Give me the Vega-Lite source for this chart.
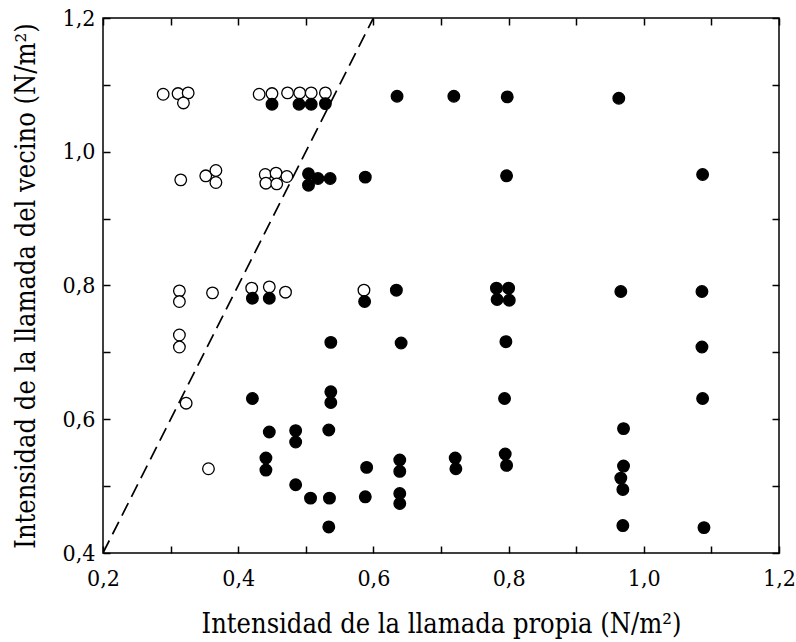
{
  "$schema": "https://vega.github.io/schema/vega-lite/v6.json",
  "autosize": "none",
  "width": 676,
  "height": 535,
  "padding": {"left": 103, "top": 18, "right": 17, "bottom": 89},
  "background": "white",
  "config": {
    "view": {"stroke": "black", "strokeWidth": 1.5},
    "font": "DejaVu Serif Condensed"
  },
  "resolve": {"axis": {"x": "independent", "y": "independent"}},
  "datasets": {
    "pts": [
      {"x": 0.289, "y": 1.086, "tipo": "abierto"},
      {"x": 0.311, "y": 1.087, "tipo": "abierto"},
      {"x": 0.326, "y": 1.088, "tipo": "abierto"},
      {"x": 0.319, "y": 1.073, "tipo": "abierto"},
      {"x": 0.431, "y": 1.086, "tipo": "abierto"},
      {"x": 0.450, "y": 1.087, "tipo": "abierto"},
      {"x": 0.473, "y": 1.088, "tipo": "abierto"},
      {"x": 0.491, "y": 1.088, "tipo": "abierto"},
      {"x": 0.508, "y": 1.088, "tipo": "abierto"},
      {"x": 0.529, "y": 1.088, "tipo": "abierto"},
      {"x": 0.315, "y": 0.958, "tipo": "abierto"},
      {"x": 0.352, "y": 0.964, "tipo": "abierto"},
      {"x": 0.367, "y": 0.972, "tipo": "abierto"},
      {"x": 0.367, "y": 0.954, "tipo": "abierto"},
      {"x": 0.440, "y": 0.966, "tipo": "abierto"},
      {"x": 0.456, "y": 0.968, "tipo": "abierto"},
      {"x": 0.472, "y": 0.963, "tipo": "abierto"},
      {"x": 0.441, "y": 0.953, "tipo": "abierto"},
      {"x": 0.457, "y": 0.952, "tipo": "abierto"},
      {"x": 0.313, "y": 0.792, "tipo": "abierto"},
      {"x": 0.313, "y": 0.776, "tipo": "abierto"},
      {"x": 0.362, "y": 0.789, "tipo": "abierto"},
      {"x": 0.420, "y": 0.796, "tipo": "abierto"},
      {"x": 0.446, "y": 0.798, "tipo": "abierto"},
      {"x": 0.470, "y": 0.790, "tipo": "abierto"},
      {"x": 0.586, "y": 0.793, "tipo": "abierto"},
      {"x": 0.313, "y": 0.726, "tipo": "abierto"},
      {"x": 0.313, "y": 0.708, "tipo": "abierto"},
      {"x": 0.323, "y": 0.624, "tipo": "abierto"},
      {"x": 0.356, "y": 0.526, "tipo": "abierto"},
      {"x": 0.450, "y": 1.071, "tipo": "lleno"},
      {"x": 0.490, "y": 1.071, "tipo": "lleno"},
      {"x": 0.508, "y": 1.071, "tipo": "lleno"},
      {"x": 0.529, "y": 1.072, "tipo": "lleno"},
      {"x": 0.635, "y": 1.083, "tipo": "lleno"},
      {"x": 0.719, "y": 1.083, "tipo": "lleno"},
      {"x": 0.798, "y": 1.082, "tipo": "lleno"},
      {"x": 0.963, "y": 1.080, "tipo": "lleno"},
      {"x": 0.504, "y": 0.967, "tipo": "lleno"},
      {"x": 0.504, "y": 0.950, "tipo": "lleno"},
      {"x": 0.518, "y": 0.960, "tipo": "lleno"},
      {"x": 0.536, "y": 0.960, "tipo": "lleno"},
      {"x": 0.588, "y": 0.962, "tipo": "lleno"},
      {"x": 0.797, "y": 0.964, "tipo": "lleno"},
      {"x": 1.087, "y": 0.966, "tipo": "lleno"},
      {"x": 0.421, "y": 0.781, "tipo": "lleno"},
      {"x": 0.446, "y": 0.781, "tipo": "lleno"},
      {"x": 0.587, "y": 0.776, "tipo": "lleno"},
      {"x": 0.634, "y": 0.793, "tipo": "lleno"},
      {"x": 0.782, "y": 0.796, "tipo": "lleno"},
      {"x": 0.800, "y": 0.796, "tipo": "lleno"},
      {"x": 0.783, "y": 0.779, "tipo": "lleno"},
      {"x": 0.801, "y": 0.778, "tipo": "lleno"},
      {"x": 0.966, "y": 0.791, "tipo": "lleno"},
      {"x": 1.086, "y": 0.791, "tipo": "lleno"},
      {"x": 0.537, "y": 0.715, "tipo": "lleno"},
      {"x": 0.641, "y": 0.714, "tipo": "lleno"},
      {"x": 0.796, "y": 0.716, "tipo": "lleno"},
      {"x": 1.086, "y": 0.708, "tipo": "lleno"},
      {"x": 0.421, "y": 0.631, "tipo": "lleno"},
      {"x": 0.537, "y": 0.641, "tipo": "lleno"},
      {"x": 0.537, "y": 0.625, "tipo": "lleno"},
      {"x": 0.794, "y": 0.631, "tipo": "lleno"},
      {"x": 1.087, "y": 0.631, "tipo": "lleno"},
      {"x": 0.446, "y": 0.581, "tipo": "lleno"},
      {"x": 0.485, "y": 0.583, "tipo": "lleno"},
      {"x": 0.485, "y": 0.566, "tipo": "lleno"},
      {"x": 0.534, "y": 0.584, "tipo": "lleno"},
      {"x": 0.970, "y": 0.586, "tipo": "lleno"},
      {"x": 0.441, "y": 0.542, "tipo": "lleno"},
      {"x": 0.441, "y": 0.524, "tipo": "lleno"},
      {"x": 0.485, "y": 0.502, "tipo": "lleno"},
      {"x": 0.507, "y": 0.482, "tipo": "lleno"},
      {"x": 0.535, "y": 0.482, "tipo": "lleno"},
      {"x": 0.588, "y": 0.484, "tipo": "lleno"},
      {"x": 0.534, "y": 0.439, "tipo": "lleno"},
      {"x": 0.639, "y": 0.539, "tipo": "lleno"},
      {"x": 0.639, "y": 0.522, "tipo": "lleno"},
      {"x": 0.639, "y": 0.489, "tipo": "lleno"},
      {"x": 0.639, "y": 0.474, "tipo": "lleno"},
      {"x": 0.721, "y": 0.542, "tipo": "lleno"},
      {"x": 0.722, "y": 0.526, "tipo": "lleno"},
      {"x": 0.590, "y": 0.528, "tipo": "lleno"},
      {"x": 0.795, "y": 0.548, "tipo": "lleno"},
      {"x": 0.797, "y": 0.531, "tipo": "lleno"},
      {"x": 0.970, "y": 0.530, "tipo": "lleno"},
      {"x": 0.966, "y": 0.512, "tipo": "lleno"},
      {"x": 0.969, "y": 0.495, "tipo": "lleno"},
      {"x": 0.969, "y": 0.441, "tipo": "lleno"},
      {"x": 1.089, "y": 0.438, "tipo": "lleno"}
    ],
    "linea": [
      {"x": 0.2, "y": 0.4, "x2": 0.6, "y2": 1.2}
    ]
  },
  "layer": [
    {
      "data": {"name": "linea"},
      "mark": {"type": "rule", "color": "black", "strokeWidth": 1.7, "strokeDash": [14, 7], "clip": true},
      "encoding": {
        "x": {"field": "x", "type": "quantitative", "scale": {"domain": [0.2, 1.2], "nice": false, "zero": false},
          "axis": {
            "orient": "bottom",
            "title": "Intensidad de la llamada propia (N/m²)",
            "values": [0.2, 0.3, 0.4, 0.5, 0.6, 0.7, 0.8, 0.9, 1.0, 1.1, 1.2],
            "labelExpr": "round(datum.value*10) % 2 == 0 ? replace(format(datum.value, '.1f'), '.', ',') : ''",
            "grid": false,
            "domain": false,
            "offset": -7,
            "tickColor": "black",
            "tickWidth": 1.5,
            "tickSize": 7,
            "labelFont": "DejaVu Serif Condensed",
            "labelFontSize": 23,
            "labelColor": "black",
            "labelPadding": 14,
            "labelFlush": false,
            "labelOverlap": false,
            "titleFont": "DejaVu Serif Condensed",
            "titleFontSize": 27,
            "titleFontWeight": "normal",
            "titleColor": "black",
            "titlePadding": 21
          }
        },
        "y": {"field": "y", "type": "quantitative", "scale": {"domain": [0.4, 1.2], "nice": false, "zero": false},
          "axis": {
            "orient": "left",
            "title": "Intensidad de la llamada del vecino (N/m²)",
            "values": [0.4, 0.5, 0.6, 0.7, 0.8, 0.9, 1.0, 1.1, 1.2],
            "labelExpr": "round(datum.value*10) % 2 == 0 ? replace(format(datum.value, '.1f'), '.', ',') : ''",
            "grid": false,
            "domain": false,
            "offset": -7,
            "tickColor": "black",
            "tickWidth": 1.5,
            "tickSize": 7,
            "labelFont": "DejaVu Serif Condensed",
            "labelFontSize": 23,
            "labelColor": "black",
            "labelPadding": 8,
            "labelFlush": false,
            "labelOverlap": false,
            "titleFont": "DejaVu Serif Condensed",
            "titleFontSize": 27,
            "titleFontWeight": "normal",
            "titleColor": "black",
            "titlePadding": 22
          }
        },
        "x2": {"field": "x2"},
        "y2": {"field": "y2"}
      }
    },
    {
      "data": {"name": "pts"},
      "mark": {"type": "point", "shape": "circle", "size": 135, "filled": true, "stroke": "black", "strokeWidth": 1.3, "opacity": 1},
      "encoding": {
        "x": {"field": "x", "type": "quantitative",
          "axis": {
            "orient": "top",
            "title": null,
            "labels": false,
            "values": [0.2, 0.3, 0.4, 0.5, 0.6, 0.7, 0.8, 0.9, 1.0, 1.1, 1.2],
            "grid": false,
            "domain": false,
            "offset": -7,
            "tickColor": "black",
            "tickWidth": 1.5,
            "tickSize": 7
          }
        },
        "y": {"field": "y", "type": "quantitative",
          "axis": {
            "orient": "right",
            "title": null,
            "labels": false,
            "values": [0.4, 0.5, 0.6, 0.7, 0.8, 0.9, 1.0, 1.1, 1.2],
            "grid": false,
            "domain": false,
            "offset": -7,
            "tickColor": "black",
            "tickWidth": 1.5,
            "tickSize": 7
          }
        },
        "fill": {"field": "tipo", "type": "nominal", "scale": {"domain": ["abierto", "lleno"], "range": ["white", "black"]}, "legend": null}
      }
    }
  ]
}
